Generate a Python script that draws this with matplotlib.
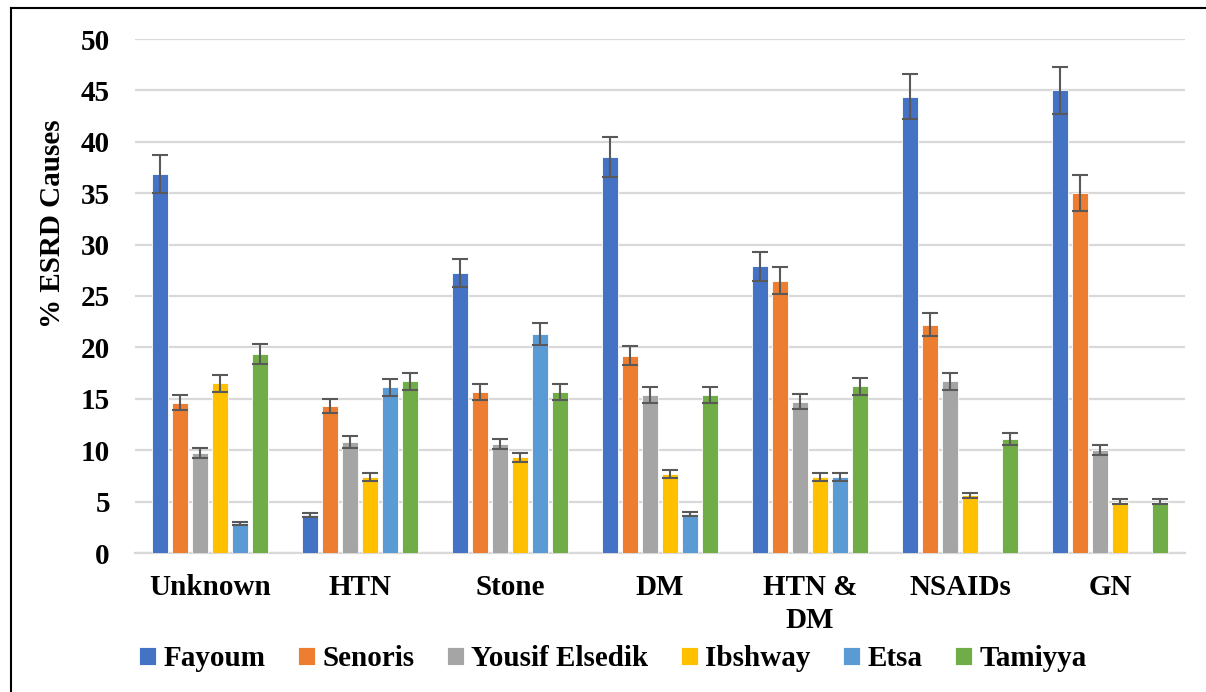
import matplotlib.pyplot as plt
import numpy as np
from matplotlib.lines import Line2D

plt.rcParams['font.family'] = ['Liberation Serif', 'DejaVu Serif']
plt.rcParams['font.weight'] = 'bold'

categories = ['Unknown', 'HTN', 'Stone', 'DM', 'HTN &\nDM', 'NSAIDs', 'GN']
sites = ['Fayoum', 'Senoris', 'Yousif Elsedik', 'Ibshway', 'Etsa', 'Tamiyya']

fayoum = [36.9, 3.7, 27.2, 38.5, 27.9, 44.4, 45.0]
senoris = [14.6, 14.3, 15.7, 19.2, 26.5, 22.2, 35.0]
yousif = [9.7, 10.8, 10.6, 15.4, 14.7, 16.7, 10.0]
ibshway = [16.5, 7.4, 9.3, 7.7, 7.4, 5.6, 5.0]
etsa = [2.9, 16.1, 21.3, 3.8, 7.4, 0.0, 0.0]
tamiyya = [19.4, 16.7, 15.7, 15.4, 16.2, 11.1, 5.0]

# excel style percentage error bars
err_pct = 5

colors = ['#4472c4', '#ed7d31', '#a5a5a5', '#ffc000', '#5b9bd5', '#70ad47']
series = [fayoum, senoris, yousif, ibshway, etsa, tamiyya]

fs = 21

fig = plt.figure(figsize=(12.06, 6.92), dpi=100)
ax = fig.add_axes([135/1206, 1 - 553/692, 1050/1206, 514/692])

x = np.arange(len(categories))
pitch = 0.133
width = 0.11
for i, (vals, c, name) in enumerate(zip(series, colors, sites)):
    v = np.array(vals)
    pos = x + (i - 2.5) * pitch
    ax.bar(pos, v, width=width, color=c, edgecolor='white', linewidth=0.6,
           label=name, zorder=3)
    e = v * err_pct / 100
    mask = v > 0
    ax.errorbar(pos[mask], v[mask], yerr=e[mask], fmt='none', ecolor='#595959',
                elinewidth=1.5, capsize=5.5, capthick=1.5, zorder=4)

ax.set_ylim(0, 50)
ax.set_xlim(-0.5, 6.5)
ax.set_yticks(np.arange(0, 51, 5))
ax.grid(axis='y', color='#d9d9d9', linewidth=1.6, zorder=0)
ax.set_axisbelow(True)
for s in ['top', 'right', 'left']:
    ax.spines[s].set_visible(False)
ax.spines['bottom'].set_color('#d9d9d9')
ax.spines['bottom'].set_linewidth(1.6)
ax.tick_params(length=0)
ax.tick_params(axis='y', pad=18, labelsize=fs)
ax.tick_params(axis='x', pad=15, labelsize=fs)
ax.set_xticks(x)
ax.set_xticklabels(categories, fontweight='bold', linespacing=1.3)
for t in ax.get_yticklabels():
    t.set_fontweight('bold')
ax.set_ylabel('% ESRD Causes', fontsize=fs, fontweight='bold')
ax.yaxis.set_label_coords(-0.066, 0.64)

ax.legend(loc='upper center', bbox_to_anchor=(0.455, -0.128), ncol=6,
          frameon=False, handlelength=0.6, handleheight=0.6,
          handletextpad=0.25, columnspacing=1.1, prop={'weight': 'bold', 'size': fs})

# frame lines of the original figure (left and top)
fig.add_artist(Line2D([11/1206, 11/1206], [0, 1 - 8/692], color='black',
                      linewidth=1.5, transform=fig.transFigure))
fig.add_artist(Line2D([11/1206, 1], [1 - 8/692, 1 - 8/692], color='black',
                      linewidth=1.5, transform=fig.transFigure))

fig.savefig('out.png', dpi=100)
